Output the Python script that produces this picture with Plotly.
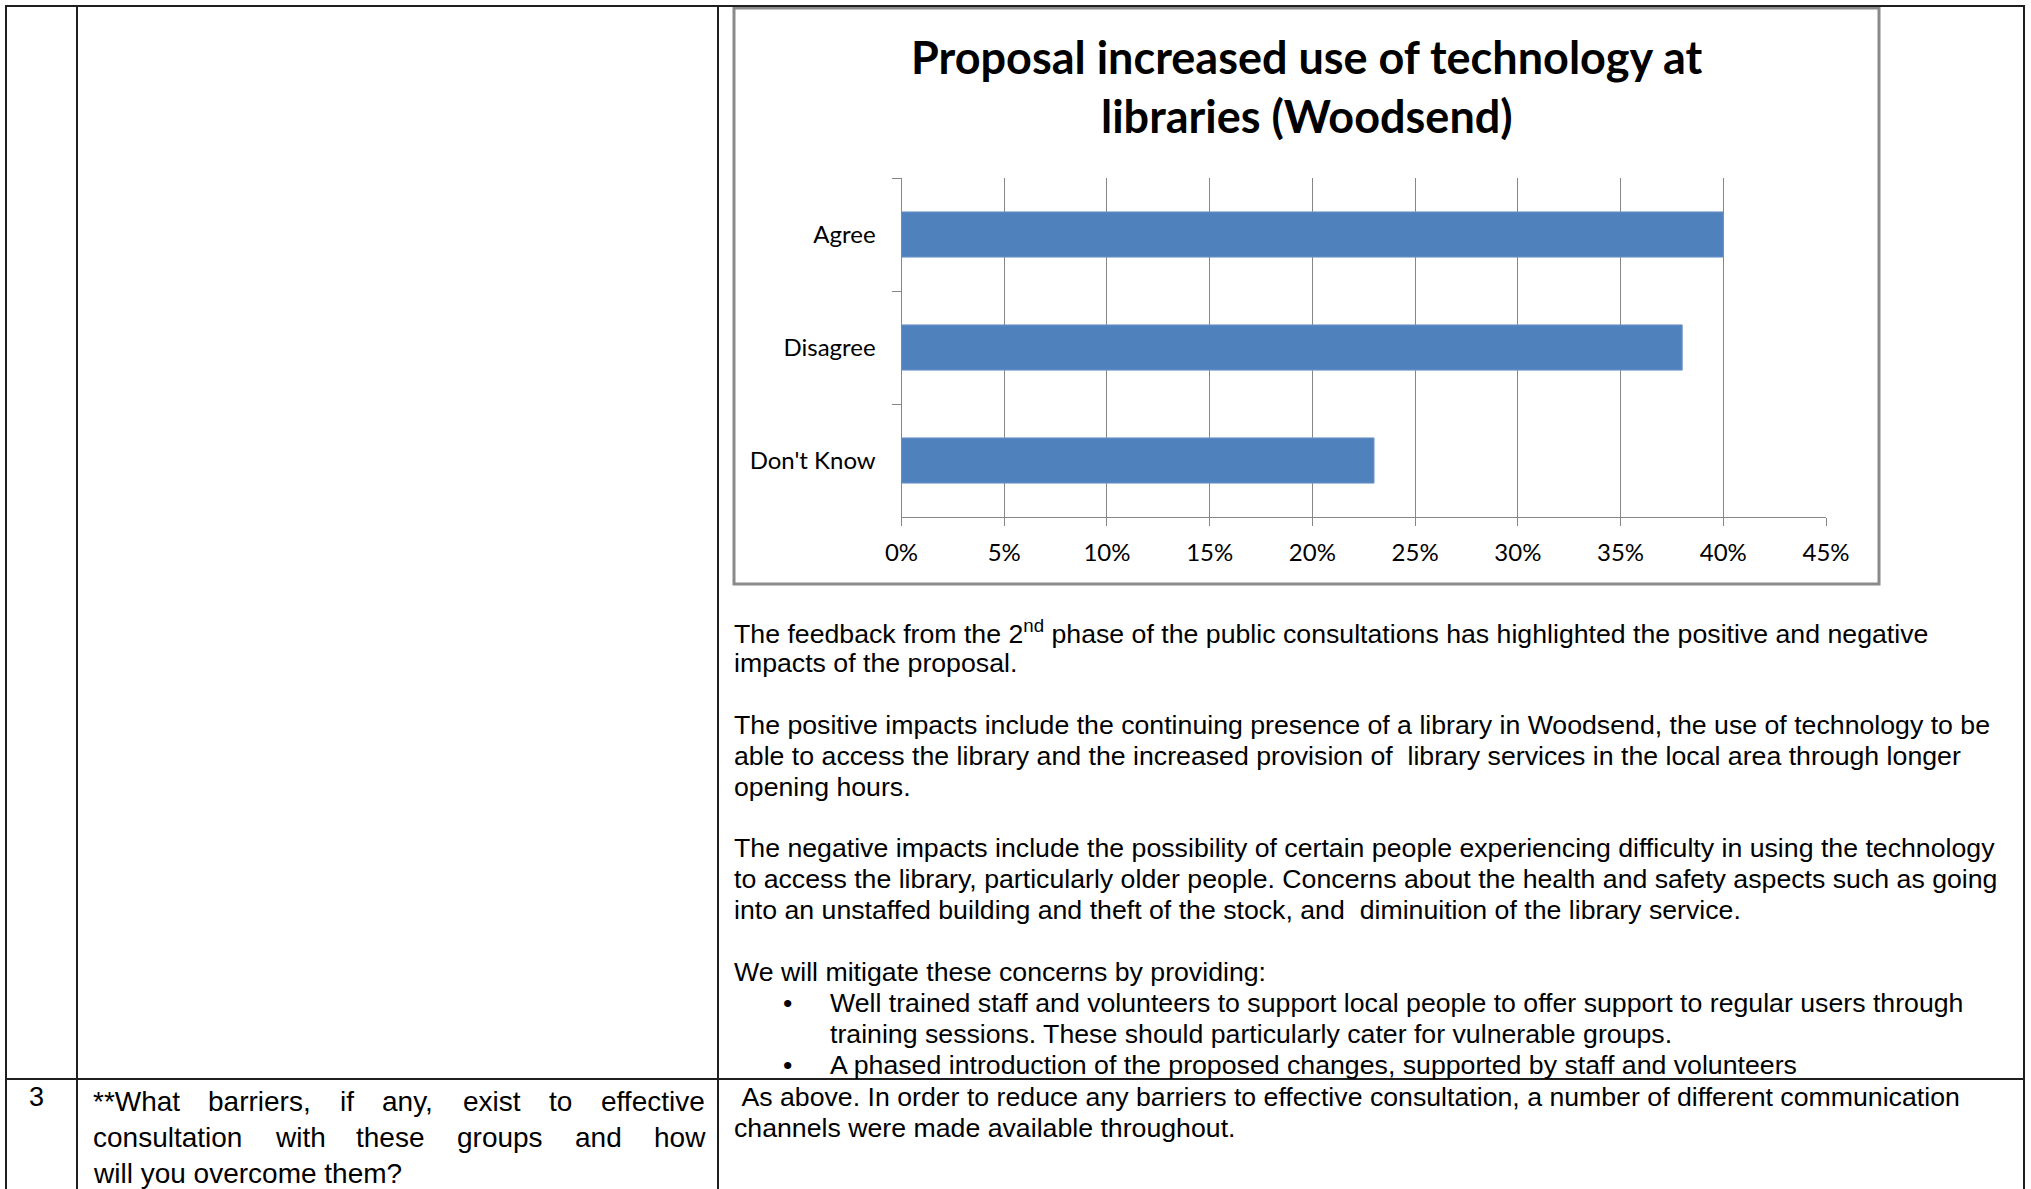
import plotly.graph_objects as go

# Page size in pixels
W, H = 2031, 1189

# Survey results
categories = ["Agree", "Disagree", "Don't Know"]
shares = [0.40, 0.38, 0.23]

# Value axis ticks
tick_values = [0, 0.05, 0.10, 0.15, 0.20, 0.25, 0.30, 0.35, 0.40, 0.45]
tick_labels = ["0%", "5%", "10%", "15%", "20%", "25%", "30%", "35%", "40%", "45%"]

chart_title = ["Proposal increased use of technology at", "libraries (Woodsend)"]

# Text in the right-hand cell under the chart ("" = blank line, "•" prefix = bullet item)
body_lines = [
    "The feedback from the 2<sup>nd</sup> phase of the public consultations has highlighted the positive and negative",
    "impacts of the proposal.",
    "",
    "The positive impacts include the continuing presence of a library in Woodsend, the use of technology to be",
    "able to access the library and the increased provision of  library services in the local area through longer",
    "opening hours.",
    "",
    "The negative impacts include the possibility of certain people experiencing difficulty in using the technology",
    "to access the library, particularly older people. Concerns about the health and safety aspects such as going",
    "into an unstaffed building and theft of the stock, and  diminuition of the library service.",
    "",
    "We will mitigate these concerns by providing:",
    "•Well trained staff and volunteers to support local people to offer support to regular users through",
    " training sessions. These should particularly cater for vulnerable groups.",
    "•A phased introduction of the proposed changes, supported by staff and volunteers",
]

row3_number = "3"
row3_question = [
    "**What barriers, if any, exist to effective",
    "consultation with these groups and how",
    "will you overcome them?",
]
row3_answer = [
    " As above. In order to reduce any barriers to effective consultation, a number of different communication",
    "channels were made available throughout.",
]

BODY_FONT = "Liberation Sans, Arial, sans-serif"
CHART_FONT = "Lato, sans-serif"
GRID = "#878787"
LINE = "#1f1f1f"

# Arial advance widths (1/1000 em) for justifying the question cell
ARIAL = {
    " ": 278, "*": 389, ",": 278, "?": 556, "'": 191,
    "W": 944, "a": 556, "b": 556, "c": 500, "d": 556, "e": 556, "f": 278,
    "g": 556, "h": 556, "i": 222, "k": 500, "l": 222, "m": 833, "n": 556,
    "o": 556, "p": 556, "r": 333, "s": 500, "t": 278, "u": 556, "v": 500,
    "w": 722, "x": 500, "y": 500,
}


def text_width(s, size):
    return sum(ARIAL.get(c, 556) for c in s) * size / 1000.0


def px(x):
    return x / W


def py(y):
    return 1 - y / H


fig = go.Figure()

fig.add_trace(go.Bar(
    x=shares,
    y=categories,
    orientation="h",
    marker=dict(color="#4F81BD", line=dict(color="#7096C8", width=1)),
    hoverinfo="skip",
))

# Plot area of the embedded chart (pixels)
plot_left, plot_right = 901.5, 1826
plot_top, plot_bottom = 178, 517

fig.update_layout(
    width=W,
    height=H,
    margin=dict(l=0, r=0, t=0, b=0, pad=0, autoexpand=False),
    paper_bgcolor="white",
    plot_bgcolor="white",
    showlegend=False,
    bargap=0.6,
    xaxis=dict(
        domain=[px(plot_left), px(plot_right)],
        range=[0, 0.45],
        tickvals=tick_values,
        ticktext=tick_labels,
        showgrid=True,
        gridcolor=GRID,
        gridwidth=1,
        showline=True,
        linecolor=GRID,
        linewidth=1,
        ticks="outside",
        ticklen=8,
        tickcolor=GRID,
        tickfont=dict(family=CHART_FONT, size=24, color="#000000"),
        ticklabelstandoff=6,
        zeroline=False,
        automargin=False,
        fixedrange=True,
    ),
    yaxis=dict(
        domain=[py(plot_bottom), py(plot_top)],
        categoryorder="array",
        categoryarray=categories,
        autorange="reversed",
        tickson="boundaries",
        showline=True,
        linecolor=GRID,
        linewidth=1,
        ticks="outside",
        ticklen=9,
        tickcolor=GRID,
        tickfont=dict(family=CHART_FONT, size=24, color="#000000"),
        ticklabelstandoff=20,
        showgrid=False,
        zeroline=False,
        automargin=False,
        fixedrange=True,
    ),
)

shapes = []
# Chart frame
shapes.append(dict(type="rect", xref="paper", yref="paper",
                   x0=px(734), x1=px(1879), y0=py(8), y1=py(584),
                   line=dict(color="#8a8a8a", width=3), fillcolor="rgba(0,0,0,0)", layer="below"))


# Table rules
def hline(y, x0, x1, w=2):
    shapes.append(dict(type="line", xref="paper", yref="paper",
                       x0=px(x0), x1=px(x1), y0=py(y), y1=py(y),
                       line=dict(color=LINE, width=w)))


def vline(x, y0, y1, w=2):
    shapes.append(dict(type="line", xref="paper", yref="paper",
                       x0=px(x), x1=px(x), y0=py(y0), y1=py(y1),
                       line=dict(color=LINE, width=w)))


hline(6, 5, 2025)
hline(1079, 5, 2025)
vline(6, 5, 1189)
vline(77, 5, 1189)
vline(718, 5, 1189)
vline(2024, 5, 1189)

fig.update_layout(shapes=shapes)

annotations = []


def note(text, x, y, size, family=BODY_FONT, anchor="left", **font_extra):
    annotations.append(dict(
        text=text, xref="paper", yref="paper", x=px(x), y=py(y),
        xanchor=anchor, yanchor="middle", showarrow=False,
        font=dict(family=family, size=size, color="#000000", **font_extra),
    ))


# Chart title
for i, line in enumerate(chart_title):
    note(line, 1307, 57 + i * 59, 45, family=CHART_FONT, anchor="center", weight=700)

# Body text under the chart
BODY_SIZE = 26.7
line_gap = 30.9
y0 = 632
for i, line in enumerate(body_lines):
    if not line:
        continue
    y = y0 + i * line_gap
    if line.startswith("•"):
        note("•", 781, y, BODY_SIZE)
        line = line[1:]
        x = 828
    elif line.startswith(" "):
        line = line[1:]
        x = 828
    else:
        x = 732
    note(line, x, y, BODY_SIZE)

# Row 3 answer
for i, line in enumerate(row3_answer):
    text = "&nbsp;" + line[1:] if line.startswith(" ") else line
    note(text, 732, 1097 + i * line_gap, BODY_SIZE)

# Row number
note(row3_number, 36, 1097, 27, anchor="center")

# Question cell, justified except for the last line
Q_SIZE = 28
q_left, q_right = 91, 703
for i, line in enumerate(row3_question):
    y = 1101 + i * 36
    words = line.split()
    last = i == len(row3_question) - 1
    if last or len(words) == 1:
        note(line, q_left, y, Q_SIZE)
        continue
    widths = [text_width(w, Q_SIZE) for w in words]
    gap = (q_right - q_left - sum(widths)) / (len(words) - 1)
    x = q_left
    for w, wd in zip(words, widths):
        note(w, x, y, Q_SIZE)
        x += wd + gap

fig.update_layout(annotations=annotations)

fig.write_html("out.html")
